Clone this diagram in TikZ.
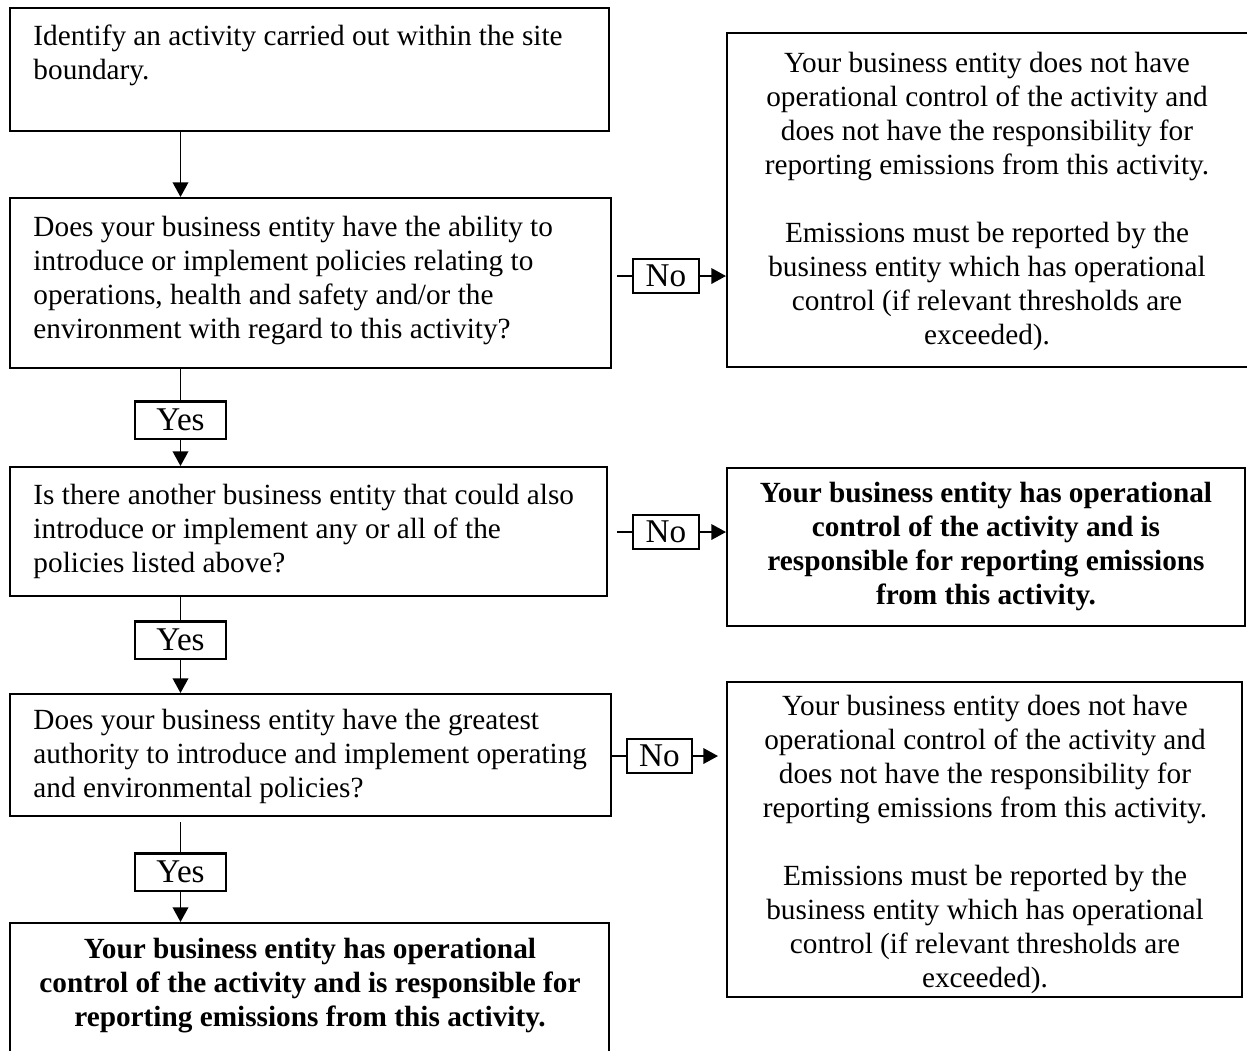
\documentclass[tikz,border=0pt]{standalone}
\usepackage{fontspec}
\setmainfont{Liberation Serif}
\usetikzlibrary{arrows.meta,fit}
\begin{document}
\begin{tikzpicture}[x=0.41pt,y=-0.41pt,
  box/.style={draw, line width=0.85pt, inner sep=0pt},
  ltxt/.style={anchor=north west, align=left, inner sep=0pt, font=\fontsize{12}{13.9}\selectfont},
  ctxt/.style={anchor=north, align=center, inner sep=0pt, font=\fontsize{12}{13.9}\selectfont},
  btxt/.style={anchor=north, align=center, inner sep=0pt, font=\fontsize{12}{13.9}\selectfont\bfseries},
  nolab/.style={draw, line width=0.85pt, inner sep=0pt, minimum width=27pt, minimum height=14pt, font=\fontsize{13.6}{14}\selectfont},
  yeslab/.style={draw, line width=0.85pt, inner sep=0pt, minimum width=37.3pt, minimum height=15.2pt, font=\fontsize{13.6}{14}\selectfont},
  conn/.style={line width=0.65pt},
  arr/.style={conn, -{Triangle[length=6pt,width=6.4pt]}}
]
\useasboundingbox (0,0) rectangle (1247,1050);
\clip (0,0) rectangle (1247,1050);

% left column boxes
\node[box, fit={(10,8) (609,131)}] (b1) {};
\node[ltxt] (b1t) at (33,24) {Identify an activity carried out within the site\\boundary.};

\node[box, fit={(10,198) (611,368)}] (b2) {};
\node[ltxt] (b2t) at (33,216) {Does your business entity have the ability to\\introduce or implement policies relating to\\operations, health and safety and/or the\\environment with regard to this activity?};

\node[box, fit={(10,467) (607,596)}] (b3) {};
\node[ltxt] (b3t) at (33,484) {Is there another business entity that could also\\introduce or implement any or all of the\\policies listed above?};

\node[box, fit={(10,694) (611,816)}] (b4) {};
\node[ltxt] (b4t) at (33,709) {Does your business entity have the greatest\\authority to introduce and implement operating\\and environmental policies?};

\node[box, fit={(10,923) (609,1080)}] (b5) {};
\node[btxt] (b5t) at (310,938) {Your business entity has operational\\control of the activity and is responsible for\\reporting emissions from this activity.};

% right column boxes
\node[box, fit={(727,33) (1270,367)}] (r1) {};
\node[ctxt] (r1t) at (987,52) {Your business entity does not have\\operational control of the activity and\\does not have the responsibility for\\reporting emissions from this activity.\\[13.9pt]Emissions must be reported by the\\business entity which has operational\\control (if relevant thresholds are\\exceeded).};

\node[box, fit={(727,468) (1245,626)}] (r2) {};
\node[btxt] (r2t) at (986,482) {Your business entity has operational\\control of the activity and is\\responsible for reporting emissions\\from this activity.};

\node[box, fit={(727,682) (1242,997)}] (r3) {};
\node[ctxt] (r3t) at (985,695) {Your business entity does not have\\operational control of the activity and\\does not have the responsibility for\\reporting emissions from this activity.\\[13.9pt]Emissions must be reported by the\\business entity which has operational\\control (if relevant thresholds are\\exceeded).};

% labels
\node[yeslab] (yes1) at (180.5,420) {Yes};
\node[yeslab] (yes2) at (180.5,640) {Yes};
\node[yeslab] (yes3) at (180.5,872) {Yes};
\node[nolab] (no1) at (666,276) {No};
\node[nolab] (no2) at (666,532) {No};
\node[nolab] (no3) at (659.5,756) {No};

% vertical connectors
\draw[arr] (b1.south -| yes1) -- (b2.north -| yes1);
\draw[conn] (b2.south -| yes1) -- (yes1.north);
\draw[arr] (yes1.south) -- (b3.north -| yes1);
\draw[conn] (b3.south -| yes2) -- (yes2.north);
\draw[arr] (yes2.south) -- (b4.north -| yes2);
\coordinate (y3s) at (180.5,822);
\draw[conn] (y3s) -- (yes3.north);
\draw[arr] (yes3.south) -- (b5.north -| yes3);

% horizontal connectors
\coordinate (n1s) at (617,276);
\draw[conn] (n1s) -- (no1.west);
\draw[arr] (no1.east) -- (r1.west |- no1);
\coordinate (n2s) at (617,532);
\draw[conn] (n2s) -- (no2.west);
\draw[arr] (no2.east) -- (r2.west |- no2);
\draw[conn] (b4.east |- no3) -- (no3.west);
\coordinate (n3e) at (718,756);
\draw[arr] (no3.east) -- (n3e);
\end{tikzpicture}
\end{document}
